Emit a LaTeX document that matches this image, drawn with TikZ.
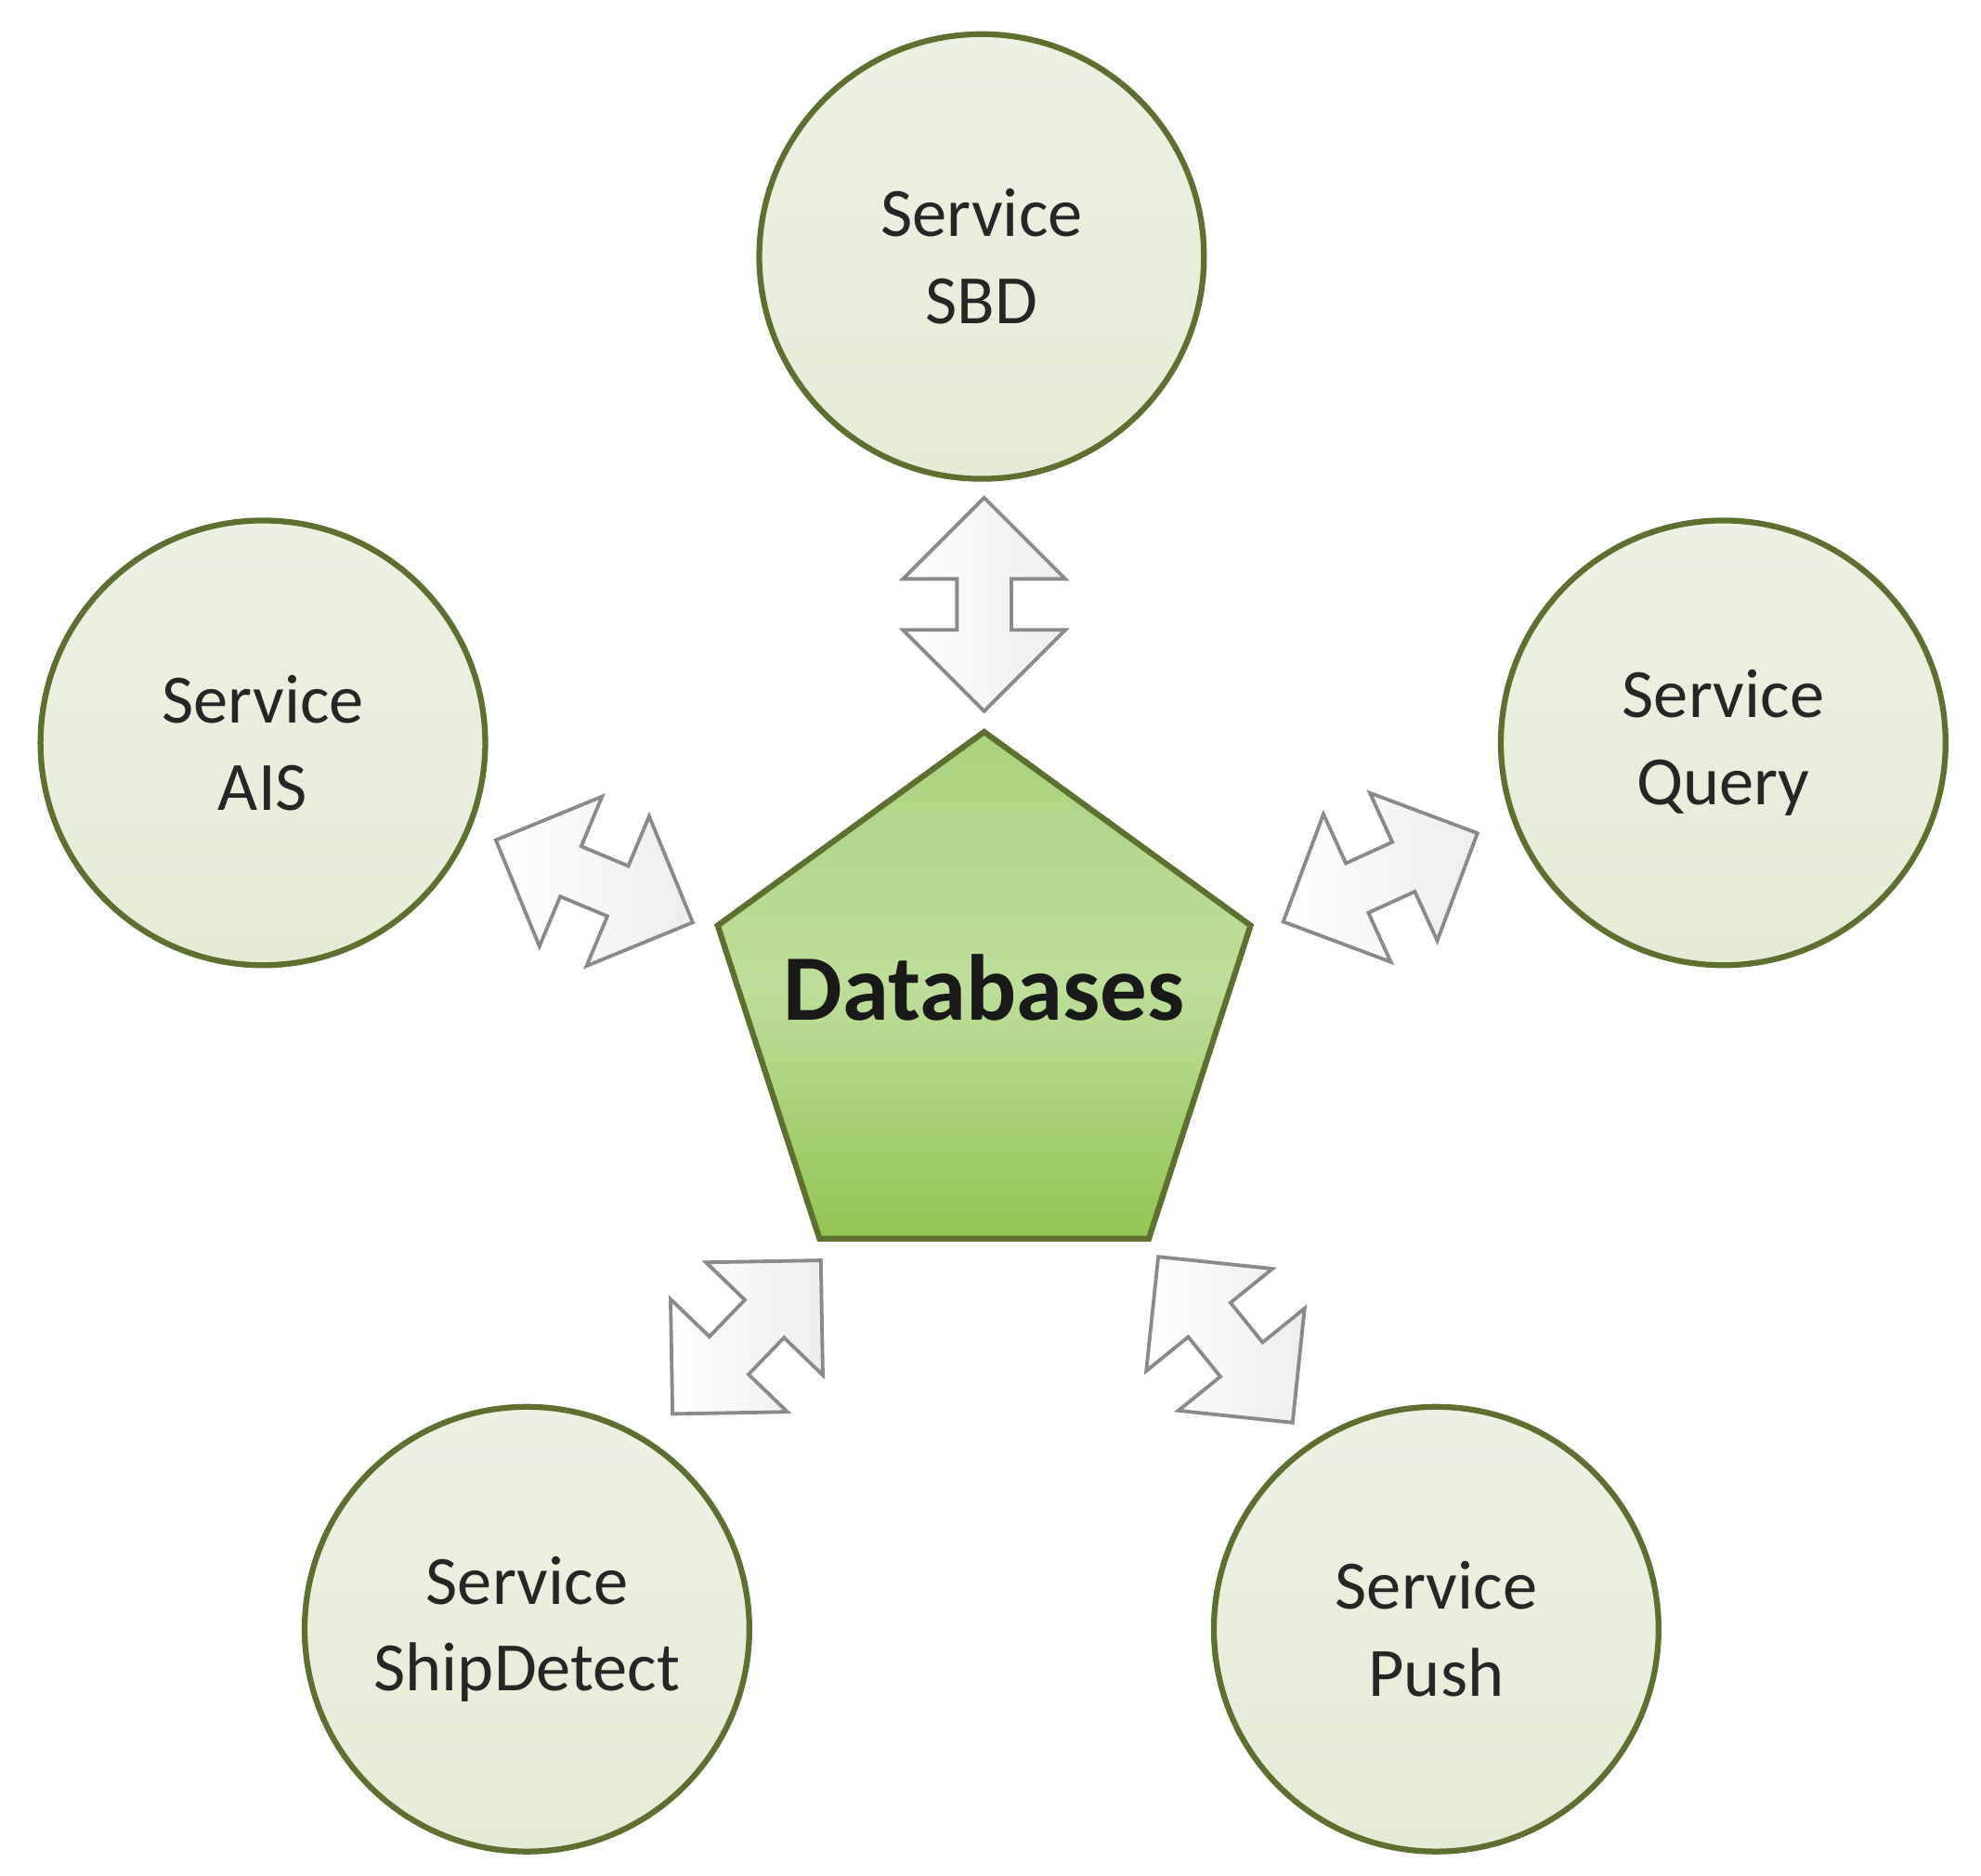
\documentclass[tikz,border=0pt]{standalone}
\usepackage{fontspec}
\setmainfont{Carlito}
\usetikzlibrary{shapes.geometric,shapes.arrows}
\definecolor{cfill}{HTML}{E6EBD7}
\definecolor{cline}{HTML}{5E7030}
\definecolor{afill}{HTML}{EDEDED}
\definecolor{aline}{HTML}{8A8A8A}
\tikzset{
 svc/.style={circle,minimum size=3.5cm,draw=cline,line width=1.3pt,top color=cfill!70!white,bottom color=cfill,font=\fontsize{15.5}{19.5}\selectfont,align=center,text=black!85},
 dar/.style={double arrow,minimum height=1.68cm,double arrow head extend=0.425cm,inner xsep=0pt,inner ysep=0.2cm,draw=aline,line width=0.8pt,left color=white,right color=afill},
}
\begin{document}
\begin{tikzpicture}[x=0.01cm,y=-0.01cm]
\useasboundingbox (0,0) rectangle (1560,1477);
\node[svc] (sbd) at (773,202) {Service\\SBD};
\node[svc] (ais) at (207,585) {Service\\AIS};
\node[svc] (query) at (1357,585) {Service\\Query};
\node[svc] (ship) at (415,1283) {Service\\ShipDetect};
\node[svc] (push) at (1131,1283) {Service\\Push};
\node[regular polygon,regular polygon sides=5,minimum size=4.41cm,draw=cline,line width=1.3pt,
  top color={rgb,255:red,170;green,210;blue,125},bottom color={rgb,255:red,146;green,196;blue,83},
  middle color={rgb,255:red,190;green,222;blue,155}] (db) at (775,797) {};
\node[font=\fontsize{21}{26}\selectfont\bfseries,text=black!90] (dbt) at (775,778) {Databases};
\node[dar,rotate=90] (a1) at (775,476) {};
\node[dar,rotate=-22.7] (a2) at (468,694) {};
\node[dar,rotate=24.5] (a3) at (1087,691) {};
\node[dar,rotate=46] (a4) at (588,1053) {};
\node[dar,rotate=-51] (a5) at (965,1055) {};
\end{tikzpicture}
\end{document}
